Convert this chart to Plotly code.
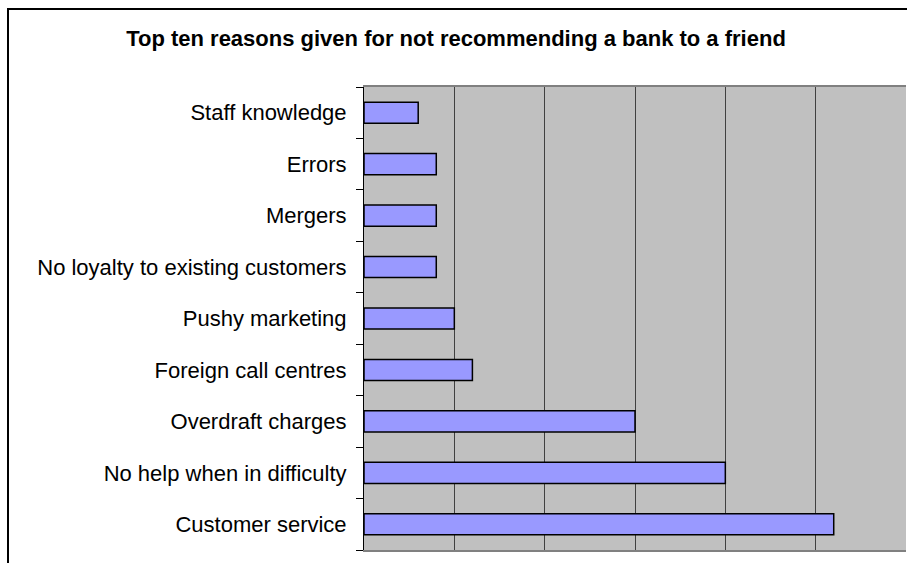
import plotly.graph_objects as go

# Reasons, listed bottom-to-top as drawn on the category axis
reasons = [
    "Customer service",
    "No help when in difficulty",
    "Overdraft charges",
    "Foreign call centres",
    "Pushy marketing",
    "No loyalty to existing customers",
    "Mergers",
    "Errors",
    "Staff knowledge",
]
# Share of respondents giving each reason (%)
shares = [26, 20, 15, 6, 5, 4, 4, 4, 3]

title_text = "Top ten reasons given for not recommending a bank to a friend"

W, H = 907, 563
L, R, T, B = 364, 1, 87, 13
plot_w = W - L - R
plot_h = H - T - B

fig = go.Figure(
    go.Bar(
        x=shares,
        y=reasons,
        orientation="h",
        marker=dict(color="#9999FF", line=dict(color="#000000", width=1.5)),
        hoverinfo="x+y",
    )
)


def px_x(p):
    return (p - L) / plot_w


def px_y(p):
    return (H - B - p) / plot_h


fig.update_layout(
    width=W,
    height=H,
    margin=dict(l=L, r=R, t=T, b=B, pad=0),
    paper_bgcolor="#FFFFFF",
    plot_bgcolor="#C0C0C0",
    bargap=0.59,
    showlegend=False,
    font=dict(family="Liberation Sans, Arial, sans-serif", color="#000000"),
    title=dict(
        text="<b>" + title_text + "</b>",
        x=456 / W,
        xanchor="center",
        y=1 - 38 / H,
        yanchor="middle",
        font=dict(size=22, family="Liberation Sans, Arial, sans-serif", color="#000000"),
    ),
    xaxis=dict(
        range=[0, 30],
        dtick=5,
        showticklabels=False,
        ticks="",
        showgrid=True,
        gridcolor="#404040",
        gridwidth=1,
        zeroline=False,
        showline=True,
        linecolor="#808080",
        linewidth=2,
        mirror=True,
        fixedrange=True,
    ),
    yaxis=dict(
        type="category",
        tickson="boundaries",
        ticks="outside",
        ticklen=7,
        tickwidth=1,
        tickcolor="#000000",
        showline=True,
        linecolor="#000000",
        linewidth=1,
        showgrid=False,
        zeroline=False,
        tickfont=dict(size=22, color="#000000"),
        ticklabelstandoff=12,
        fixedrange=True,
    ),
    shapes=[
        dict(
            type="rect",
            xref="paper",
            yref="paper",
            x0=px_x(8),
            x1=px_x(W + 20),
            y0=px_y(9),
            y1=px_y(H + 20),
            line=dict(color="#000000", width=2),
            fillcolor="rgba(0,0,0,0)",
            layer="below",
        )
    ],
)

fig.write_html("out.html")
